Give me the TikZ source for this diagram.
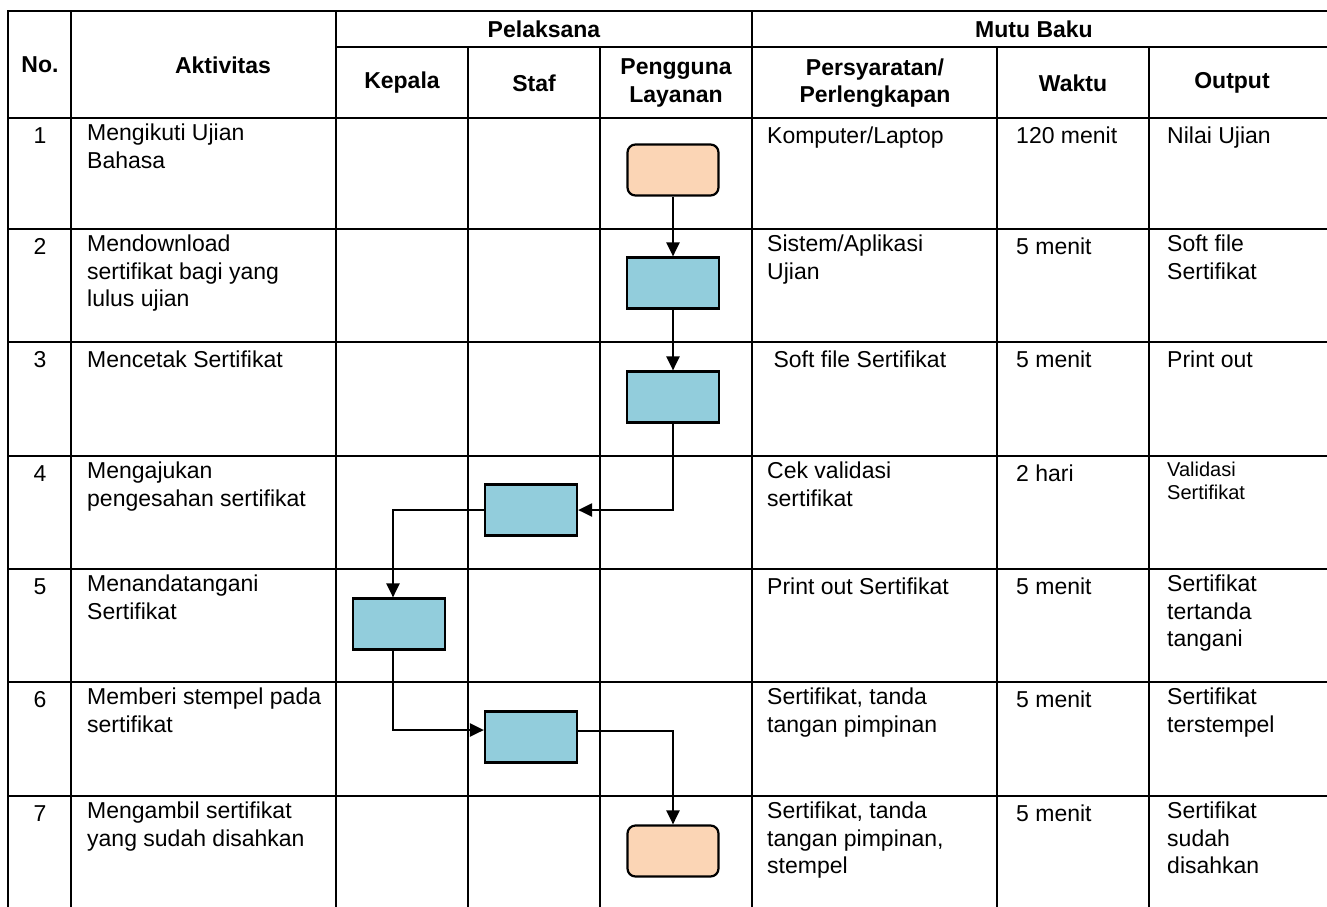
\documentclass[tikz,border=0pt]{standalone}
\usepackage{fontspec}
\setmainfont{Liberation Sans}
\usetikzlibrary{arrows.meta}

\definecolor{peach}{HTML}{FBD5B5}
\definecolor{procblue}{HTML}{92CDDC}

\newcommand{\cellfont}{\fontsize{23}{27.5}\selectfont}
\newcommand{\smallcellfont}{\fontsize{20}{23}\selectfont}

\begin{document}
\begin{tikzpicture}[x=1pt, y=1pt,
        grid/.style={line width=2.3pt, line cap=rect},
        cell/.style={anchor=north west, inner sep=0pt, align=left,
                     font=\cellfont, execute at begin node=\strut},
        smallcell/.style={cell, font=\smallcellfont},
        num/.style={cell, anchor=north},
        head/.style={inner sep=0pt, align=center, font=\cellfont\bfseries},
        term/.style={draw, line width=2.2pt, rounded corners=8pt, fill=peach,
                     minimum width=91pt, minimum height=51pt, inner sep=0pt},
        proc/.style={draw, line width=2.2pt, fill=procblue,
                     minimum width=92pt, minimum height=51pt, inner sep=0pt},
        arr/.style={-{Triangle[length=14pt,width=13pt]}, line width=2.2pt},
    ]
    \useasboundingbox (0,0) rectangle (1327,-906);

    % --- Garis tabel ---
    \draw[grid] (8,-11) -- (1327,-11);
    \draw[grid] (336,-47) -- (1327,-47);
    \foreach \ry in {118,229,342,456,569,682,796}
        \draw[grid] (8,-\ry) -- (1327,-\ry);
    \foreach \cx in {8,71,336,752}
        \draw[grid] (\cx,-11) -- (\cx,-906);
    \foreach \cx in {468,600,997,1149}
        \draw[grid] (\cx,-47) -- (\cx,-906);

    % --- Kepala tabel ---
    \node[head] (hno) at (40,-65) {No.};
    \node[head] (hakt) at (223,-65) {Aktivitas};
    \node[head] (hpel) at (544,-29) {Pelaksana};
    \node[head] (hmutu) at (1034,-29) {Mutu Baku};
    \node[head] (hkep) at (402,-83) {Kepala};
    \node[head] (hstaf) at (534,-83) {Staf};
    \node[head] (hpeng) at (676,-83) {Pengguna\\Layanan};
    \node[head] (hsyarat) at (875,-83) {Persyaratan/\\Perlengkapan};
    \node[head] (hwaktu) at (1073,-83) {Waktu};
    \node[head] (hout) at (1232,-83) {Output};

    % --- Isi baris ---
    \foreach \i/\ry/\act/\req/\wkt/\outp/\ostyle in {
        1/118/{Mengikuti Ujian\\Bahasa}/{Komputer/Laptop}/{120 menit}/{Nilai Ujian}/cell,
        2/229/{Mendownload\\sertifikat bagi yang\\lulus ujian}/{Sistem/Aplikasi\\Ujian}/{5 menit}/{Soft file\\Sertifikat}/cell,
        3/342/{Mencetak Sertifikat}/{\ Soft file Sertifikat}/{5 menit}/{Print out}/cell,
        4/456/{Mengajukan\\pengesahan sertifikat}/{Cek validasi\\sertifikat}/{2 hari}/{Validasi\\Sertifikat}/smallcell,
        5/569/{Menandatangani\\Sertifikat}/{Print out Sertifikat}/{5 menit}/{Sertifikat\\tertanda\\tangani}/cell,
        6/682/{Memberi stempel pada\\sertifikat}/{Sertifikat, tanda\\tangan pimpinan}/{5 menit}/{Sertifikat\\terstempel}/cell,
        7/796/{Mengambil sertifikat\\yang sudah disahkan}/{Sertifikat, tanda\\tangan pimpinan,\\stempel}/{5 menit}/{Sertifikat\\sudah\\disahkan}/cell}
    {
        \node[num] (no\i) at (40,-\ry-6) {\i};
        \node[cell] (akt\i) at (87,-\ry-6) {\act};
        \node[cell] (syarat\i) at (767,-\ry-6) {\req};
        \node[cell] (waktu\i) at (1016,-\ry-6) {\wkt};
        \node[\ostyle] (out\i) at (1167,-\ry-6) {\outp};
    }

    % --- Simbol alur ---
    \node[term] (ujian) at (673,-170) {};
    \node[proc] (unduh) at (673,-283) {};
    \node[proc] (cetak) at (673,-397) {};
    \node[proc] (ajukan) at (531,-510) {};
    \node[proc] (ttd) at (399,-624) {};
    \node[proc] (stempel) at (531,-737) {};
    \node[term] (ambil) at (673,-851) {};

    % --- Panah ---
    \draw[arr] (ujian) -- (unduh);
    \draw[arr] (unduh) -- (cetak);
    \draw[arr] (cetak) |- (ajukan);
    \draw[arr] (ajukan) -| ([xshift=-6pt]ttd.north);
    \draw[arr] ([xshift=-6pt]ttd.south) |- ([yshift=7pt]stempel.west);
    \draw[arr] ([yshift=6pt]stempel.east) -| (ambil);
\end{tikzpicture}
\end{document}
